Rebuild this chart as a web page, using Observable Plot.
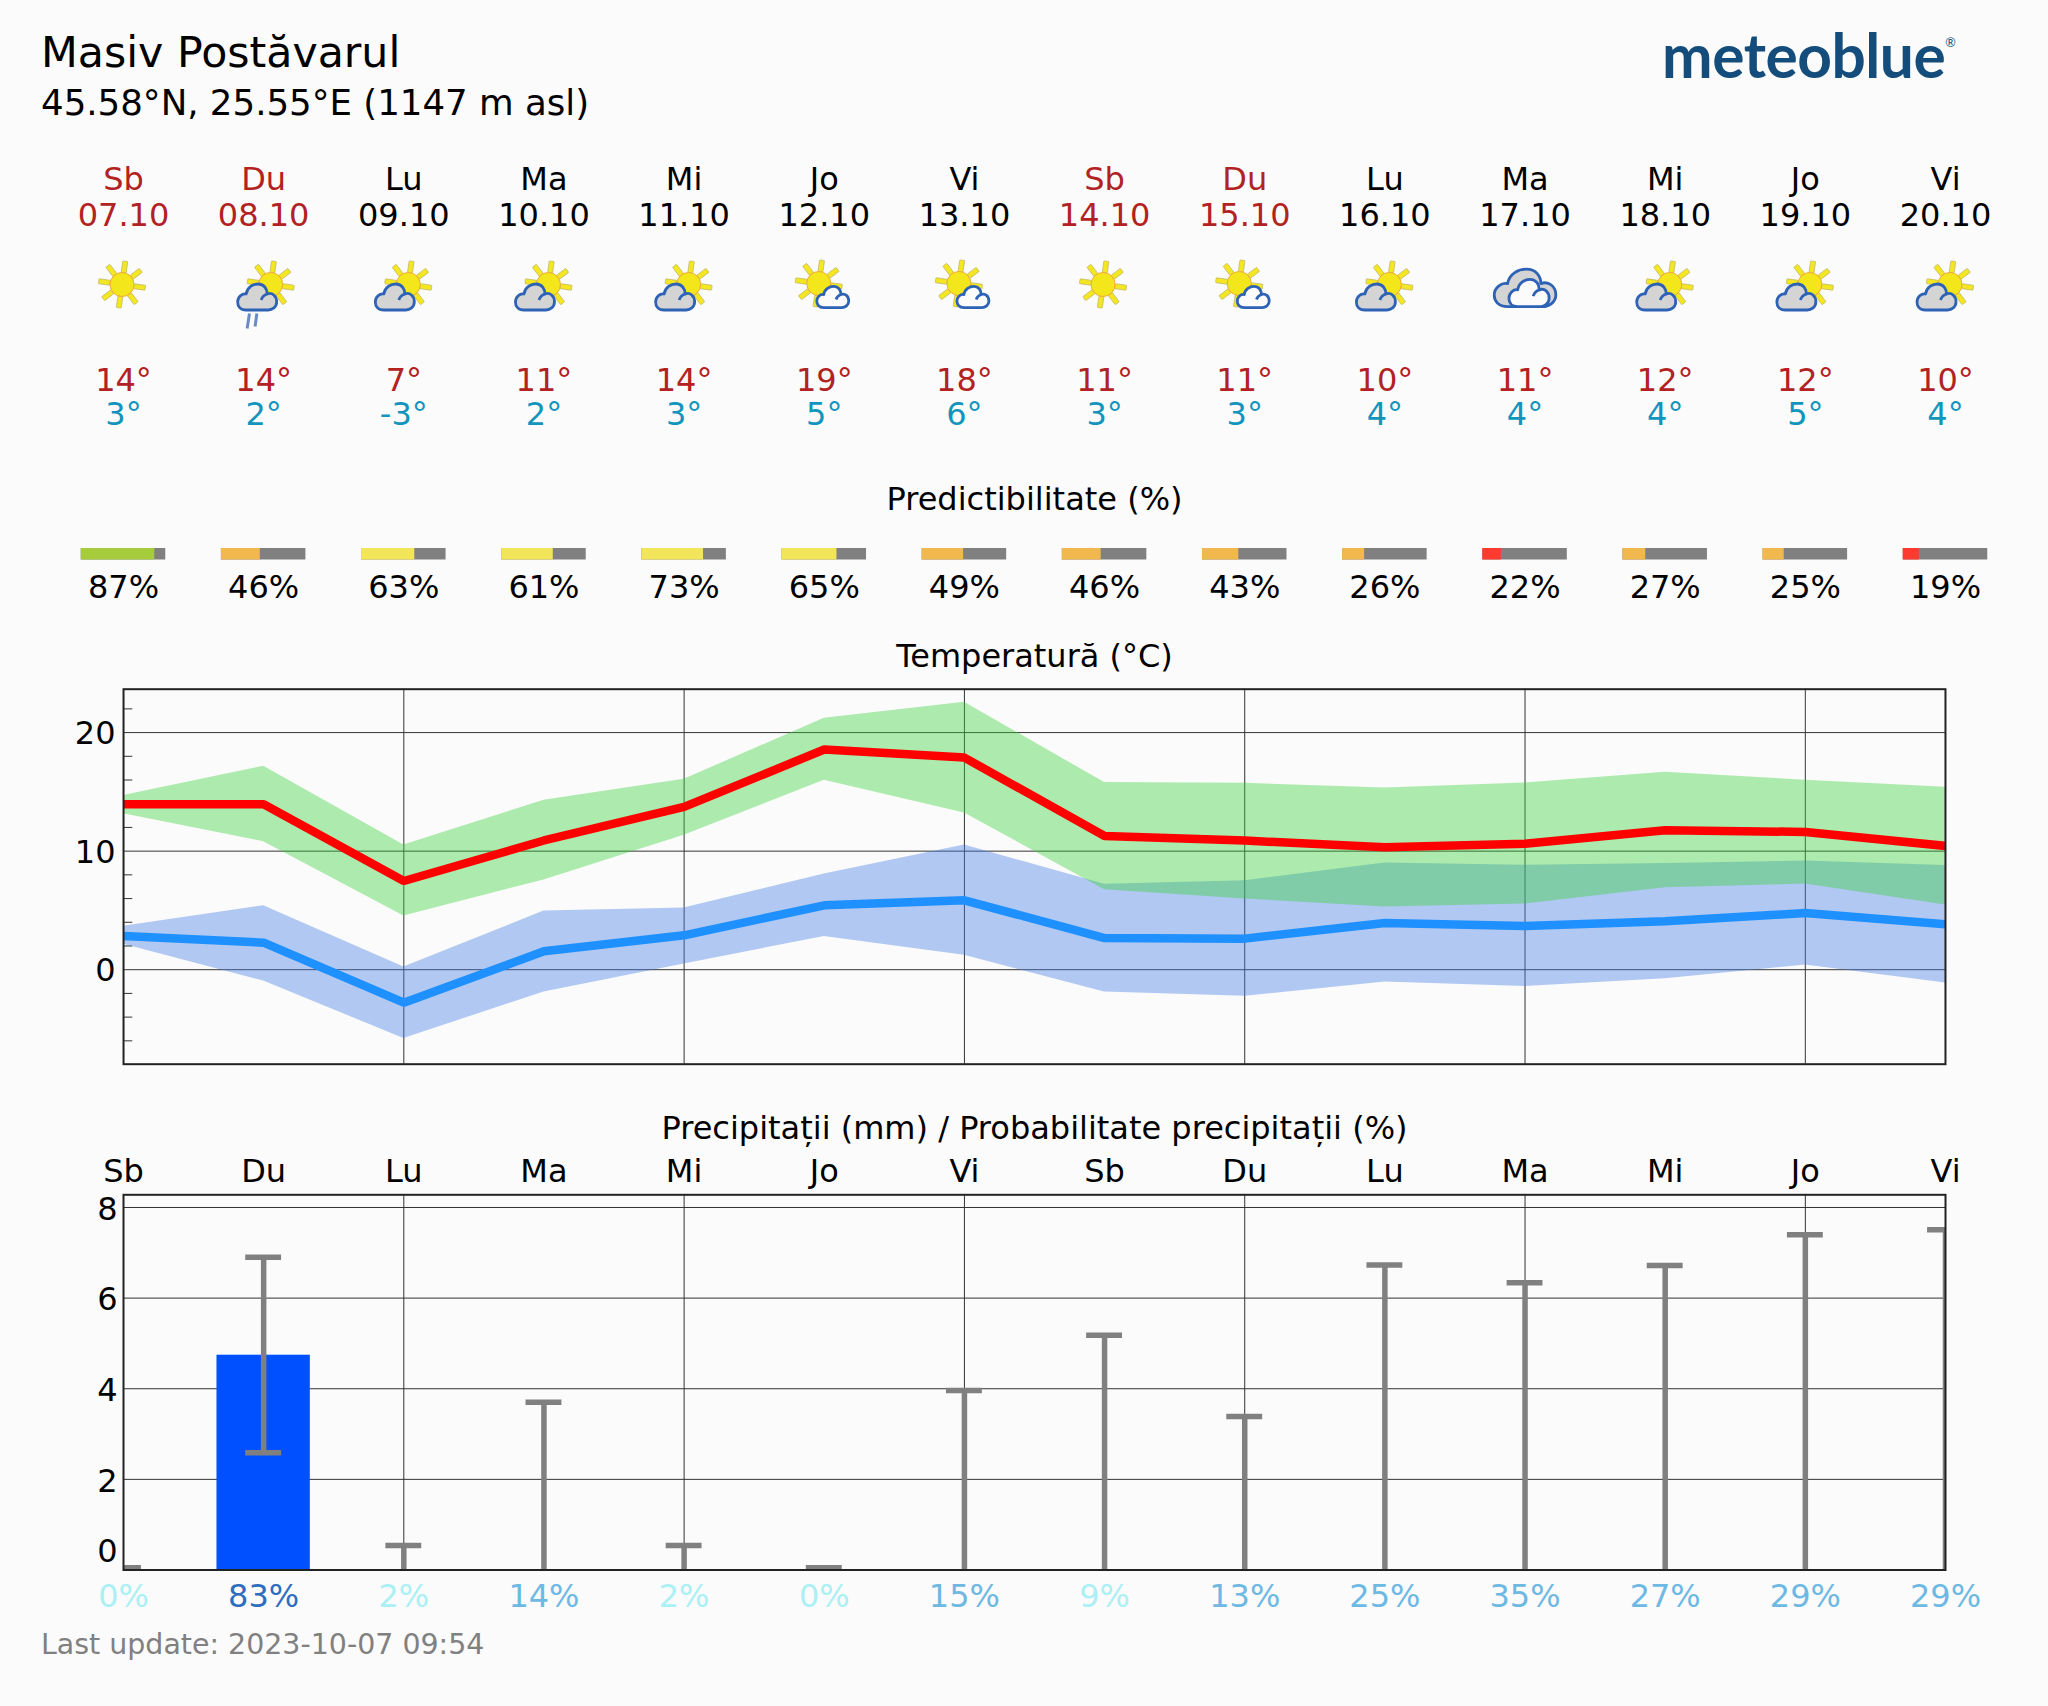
<!DOCTYPE html>
<html lang="ro">
<head>
<meta charset="utf-8">
<title>Masiv Postăvarul</title>
<script src="https://cdn.jsdelivr.net/npm/d3@7"></script>
<script src="https://cdn.jsdelivr.net/npm/@observablehq/plot@0.6"></script>
<style>
  html, body { margin: 0; padding: 0; background: #fbfbfb; }
  #page { position: relative; width: 2048px; height: 1706px; background: #fbfbfb; overflow: hidden; font-family: "DejaVu Sans", sans-serif; }
  #page > div, #page > svg, #page > figure { position: absolute; margin: 0; }
  .t { white-space: nowrap; line-height: 1; color: #000; }
</style>
</head>
<body>
<div id="page">
  <div class="t" style="left:41px;top:31px;font-size:42.7px">Masiv Postăvarul</div>
  <div class="t" style="left:41px;top:85px;font-size:35.6px">45.58°N, 25.55°E (1147 m asl)</div>
  <div class="t" style="left:1662px;top:23px;font-family:Lato;font-weight:700;font-size:62px;color:#144d7c;letter-spacing:-0.5px;transform:scaleX(0.975);transform-origin:left top">meteoblue<span style="font-size:13px;vertical-align:31px;font-weight:400;margin-left:0px">®</span></div>
  <div class="t" style="left:41px;top:1630.5px;font-size:28.45px;color:#808080">Last update: 2023-10-07 09:54</div>
</div>
<script>
const weekdays = ["Sb","Du","Lu","Ma","Mi","Jo","Vi","Sb","Du","Lu","Ma","Mi","Jo","Vi"];
const dates = ["07.10","08.10","09.10","10.10","11.10","12.10","13.10","14.10","15.10","16.10","17.10","18.10","19.10","20.10"];
const weekend = [1,1,0,0,0,0,0,1,1,0,0,0,0,0];
const icons = ["sun","rain","partly","partly","partly","fair","fair","sun","fair","partly","overcast","partly","partly","partly"];
const tmaxLabels = [14,14,7,11,14,19,18,11,11,10,11,12,12,10];
const tminLabels = [3,2,-3,2,3,5,6,3,3,4,4,4,5,4];
const predictability = [87,46,63,61,73,65,49,46,43,26,22,27,25,19];
const precipProb = [0,83,2,14,2,0,15,9,13,25,35,27,29,29];

const tempMax = [13.95,13.95,7.48,10.9,13.73,18.57,17.89,11.28,10.89,10.32,10.63,11.76,11.62,10.44];
const tempMin = [2.84,2.28,-2.78,1.55,2.9,5.43,5.85,2.67,2.62,3.94,3.68,4.08,4.78,3.83];
const maxHi = [14.7,17.16,10.52,14.29,16.06,21.2,22.56,15.78,15.72,15.33,15.75,16.65,15.98,15.39];
const maxLo = [13.16,10.8,4.53,7.57,11.34,15.98,13.22,6.75,5.96,5.29,5.54,6.92,7.23,5.46];
const minHi = [3.66,5.4,0.22,4.95,5.2,8.07,10.52,7.2,7.51,9.0,8.8,8.95,9.17,8.78];
const minLo = [2.14,-0.96,-5.8,-1.88,0.48,2.81,1.21,-1.88,-2.25,-1.04,-1.41,-0.76,0.39,-1.13];

const precip = [0,4.74,0,0,0,0,0,0,0,0,0,0,0,0];
const precipLo = [0,2.59,0,0,0,0,0,0,0,0,0,0,0,0];
const precipHi = [0.05,6.9,0.54,3.7,0.54,0.05,3.96,5.18,3.39,6.73,6.34,6.72,7.4,7.51];

const X = {domain:[0,13], axis:null};
const M = {marginLeft:123, marginRight:103, width:2048};
const baseStyle = {background:"transparent", fontFamily:"DejaVu Sans", overflow:"visible", color:"#000"};
const FS = 32;
const RED = "#b22222", TEAL = "#1294bd", GRID = "#333";
const idx = d3.range(14);
const page = document.getElementById("page");
function place(node, top){ node.style.position="absolute"; node.style.left="0px"; node.style.top=top+"px"; page.appendChild(node); }

// ---- weather icons
const INK = "#2d62b5";
const rays = d3.range(8).map(k=>`<rect x="-2.5" y="-23.5" width="5" height="11.5" rx="0.6" transform="rotate(${8+k*45})" fill="#f4e620" stroke="#bdb66a" stroke-width="0.7"/>`).join("");
const sun = (x,y)=>`<g transform="translate(${x} ${y})">${rays}<circle r="12" fill="#f3e61a" stroke="#f2a93b" stroke-width="1"/></g>`;
const cloud = (x,y,sx,sy,fill,curl=true)=>`<g transform="translate(${x} ${y}) scale(${sx} ${sy})"><path vector-effect="non-scaling-stroke" d="M-11,13C-17,13-19.5,9-19.5,5C-19.5,0-15,-4-11,-3C-10,-10-4,-13 1,-13C7,-13 10,-8 10,-3C15,-5 19.5,-1 19.5,5C19.5,10 15,13 11,13Z" fill="${fill}" stroke="${INK}" stroke-width="2.8" stroke-linejoin="round"/>${curl?`<path vector-effect="non-scaling-stroke" d="M10,-3C7,-2 5,0 4,3" fill="none" stroke="${INK}" stroke-width="2.8"/>`:""}</g>`;
const wrap = b=>"data:image/svg+xml,"+encodeURIComponent(`<svg xmlns="http://www.w3.org/2000/svg" viewBox="-50 -50 100 100" width="100" height="100">${b}</svg>`);
const iconSrc = {
  sun: wrap(sun(-1.5,0)),
  rain: wrap(sun(7,0)+cloud(-6.5,12.5,1,1,"#d4d4d4")+`<path d="M-14.2,29L-16.5,44M-6.8,29L-8.6,42" stroke="#6a8cc6" stroke-width="3" fill="none"/>`),
  partly: wrap(sun(4.5,0)+cloud(-9,12.5,1,1,"#d4d4d4")),
  fair: wrap(sun(-5.5,-1)+cloud(8.5,12.5,0.82,0.82,"#fbfbfb")),
  overcast: wrap(cloud(0,3.4,1.58,1.44,"#d4d4d4",false)+cloud(4,8.5,1.03,1.05,"#fbfbfb"))
};

// ---- header plot (rows in page pixels)
const rows = {weekday:179.5, date:215.5, icon:284, max:380.5, min:414.5, predTitle:499, barTop:548, barBottom:559.5, pct:587};
const BARW = 0.603;
const predColor = p => p>=80 ? "#a6cc3e" : p>=60 ? "#f3e559" : p>=25 ? "#f1b84e" : "#ff3b30";
const header = Plot.plot({
  ...M, height:620, marginTop:0, marginBottom:0, style:baseStyle,
  x:X, y:{domain:[0,620], range:[0,620], axis:null},
  marks:[
    Plot.text(idx,{x:d=>d,y:()=>rows.weekday,text:i=>weekdays[i],fill:i=>weekend[i]?RED:"#000",fontSize:FS,lineAnchor:"middle"}),
    Plot.text(idx,{x:d=>d,y:()=>rows.date,text:i=>dates[i],fill:i=>weekend[i]?RED:"#000",fontSize:FS,lineAnchor:"middle"}),
    Plot.image(idx,{x:d=>d,y:()=>rows.icon,src:i=>iconSrc[icons[i]],width:100,height:100}),
    Plot.text(idx,{x:d=>d,y:()=>rows.max,text:i=>tmaxLabels[i]+"°",fill:RED,fontSize:FS,lineAnchor:"middle"}),
    Plot.text(idx,{x:d=>d,y:()=>rows.min,text:i=>tminLabels[i]+"°",fill:TEAL,fontSize:FS,lineAnchor:"middle"}),
    Plot.text(["Predictibilitate (%)"],{x:()=>6.5,y:()=>rows.predTitle,text:d=>d,fontSize:FS,lineAnchor:"middle"}),
    Plot.rect(idx,{x1:i=>i-BARW/2,x2:i=>i+BARW/2,y1:()=>rows.barTop,y2:()=>rows.barBottom,fill:"#808080"}),
    Plot.rect(idx,{x1:i=>i-BARW/2,x2:i=>i-BARW/2+BARW*predictability[i]/100,y1:()=>rows.barTop,y2:()=>rows.barBottom,fill:i=>predColor(predictability[i])}),
    Plot.text(idx,{x:d=>d,y:()=>rows.pct,text:i=>predictability[i]+"%",fontSize:FS,lineAnchor:"middle"})
  ]
});
place(header,0);

// ---- temperature plot
const tempTop = 620, tempFrameTop = 688.7, tempFrameBottom = 1063.7;
const temp = Plot.plot({
  ...M, height:(tempFrameBottom-tempTop)+10, marginTop:tempFrameTop-tempTop, marginBottom:10, style:baseStyle,
  x:X, y:{domain:[-7.97,23.66], axis:null},
  marks:[
    Plot.ruleY([0,10,20],{stroke:GRID,strokeWidth:1}),
    Plot.ruleX([2,4,6,8,10,12],{stroke:GRID,strokeWidth:1}),
    Plot.ruleY([22,18,16,14,12,8,6,4,2,-2,-4,-6],{x1:0,x2:0.066,stroke:GRID,strokeWidth:1}),
    Plot.areaY(idx,{x:d=>d,y1:i=>minLo[i],y2:i=>minHi[i],fill:"rgb(64,124,231)",fillOpacity:0.4,clip:true}),
    Plot.areaY(idx,{x:d=>d,y1:i=>maxLo[i],y2:i=>maxHi[i],fill:"rgb(58,211,58)",fillOpacity:0.4,clip:true}),
    Plot.line(idx,{x:d=>d,y:i=>tempMin[i],stroke:"#1e90ff",strokeWidth:8.5,strokeLinejoin:"miter",clip:true}),
    Plot.line(idx,{x:d=>d,y:i=>tempMax[i],stroke:"#ff0000",strokeWidth:8.5,strokeLinejoin:"miter",clip:true}),
    Plot.frame({stroke:"#222",strokeWidth:2}),
    Plot.axisY({ticks:[0,10,20],tickSize:0,tickPadding:8,fontSize:FS,label:null,dy:1.5}),
    Plot.text(["Temperatură (°C)"],{x:()=>6.5,text:d=>d,frameAnchor:"top",dy:-32,fontSize:FS,lineAnchor:"middle"})
  ]
});
place(temp,tempTop);

// ---- precipitation plot
const pTop = 1100, pFrameTop = 1194.3, pFrameBottom = 1569.5;
const probColor = p => p>=50 ? "#2f6dbe" : p>=10 ? "#6db9e3" : "#aaf0f5";
const CAP = 0.128, BAR = 0.333;
const prec = Plot.plot({
  ...M, height:(pFrameBottom-pTop)+60, marginTop:pFrameTop-pTop, marginBottom:60, style:baseStyle,
  x:X, y:{domain:[0,8.28], axis:null},
  marks:[
    Plot.ruleY([2,4,6,8],{stroke:GRID,strokeWidth:1}),
    Plot.ruleX([2,4,6,8,10,12],{stroke:GRID,strokeWidth:1}),
    Plot.rectY(idx.filter(i=>precip[i]>0),{x1:i=>i-BAR,x2:i=>i+BAR,y1:()=>0,y2:i=>precip[i],fill:"#0050ff"}),
    Plot.ruleX(idx,{x:d=>d,y1:i=>precipLo[i],y2:i=>precipHi[i],stroke:"#808080",strokeWidth:5.5,clip:true}),
    Plot.ruleY(idx,{y:i=>precipHi[i],x1:i=>i-CAP,x2:i=>i+CAP,stroke:"#808080",strokeWidth:5.5,clip:true}),
    Plot.ruleY(idx.filter(i=>precipLo[i]>0),{y:i=>precipLo[i],x1:i=>i-CAP,x2:i=>i+CAP,stroke:"#808080",strokeWidth:5.5,clip:true}),
    Plot.frame({stroke:"#222",strokeWidth:2}),
    Plot.axisY({ticks:[2,4,6,8],tickSize:0,tickPadding:6,fontSize:FS,label:null,dy:2}),
    Plot.axisY({ticks:[0],tickSize:0,tickPadding:6,fontSize:FS,label:null,dy:-18}),
    Plot.text(idx,{x:d=>d,text:i=>weekdays[i],frameAnchor:"top",dy:-23,fontSize:FS,lineAnchor:"middle"}),
    Plot.text(["Precipitații (mm) / Probabilitate precipitații (%)"],{x:()=>6.5,text:d=>d,frameAnchor:"top",dy:-66,fontSize:FS,lineAnchor:"middle"}),
    Plot.text(idx,{x:d=>d,text:i=>precipProb[i]+"%",frameAnchor:"bottom",dy:27,fill:i=>probColor(precipProb[i]),fontSize:FS,lineAnchor:"middle"})
  ]
});
place(prec,pTop);
</script>
</body>
</html>
